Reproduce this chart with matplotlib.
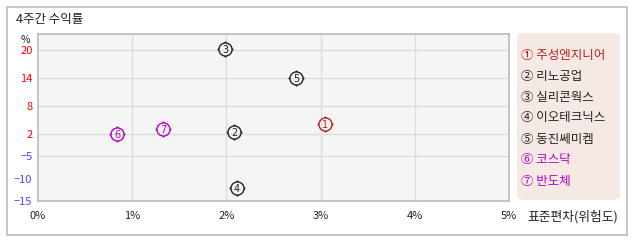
import numpy as np
import matplotlib
matplotlib.use("Agg")
import matplotlib.pyplot as plt
from matplotlib.path import Path
from matplotlib.patches import FancyBboxPatch, Rectangle

plt.rcParams['font.family'] = ['Noto Sans CJK KR', 'DejaVu Sans']

# 데이터
names = ['주성엔지니어', '리노공업', '실리콘웍스', '이오테크닉스', '동진쎄미켐', '코스닥', '반도체']
circled = ['①', '②', '③', '④', '⑤', '⑥', '⑦']
risk = [3.05, 2.08, 1.99, 2.11, 2.74, 0.84, 1.33]      # 표준편차 (%)
ret = [4.1, 2.5, 20.3, -12.2, 14.1, 2.1, 3.0]         # 4주간 수익률 (%)
colors = ['#b22222', '#222222', '#222222', '#222222', '#222222', '#b400c8', '#b400c8']

xticks = [0, 1, 2, 3, 4, 5]
yticks = [20, 14, 8, 2, -5, -10, -15]
ygrid = [20, 14, 8, 2, -5]

# 세로축은 양/음 구간 간격이 다름
sv = [-15, -5, 2, 20, 24]
sp = [0, 45, 67, 151, 169.7]
fwd = lambda v: np.interp(v, sv, sp)
inv = lambda p: np.interp(p, sp, sv)

W, H = 638, 242
fig = plt.figure(figsize=(W / 100, H / 100), dpi=100)
fig.patch.set_facecolor('white')

def fx(px):
    return px / W

def fy(py):
    return 1 - py / H

# 바깥 테두리
fig.patches.append(Rectangle((fx(6.5), fy(235)), fx(620.5), (228) / H, transform=fig.transFigure,
                             fill=False, edgecolor='#bbbbbb', linewidth=1.2))
fig.text(fx(16), fy(20), '4주간 수익률', fontsize=9, va='center', ha='left', color='#222222')

ax = fig.add_axes([fx(38), fy(201), fx(509 - 38), (201 - 34) / H])
ax.set_facecolor('#f5f5f5')
ax.set_yscale('function', functions=(fwd, inv))
ax.set_xlim(0, 5)
ax.set_ylim(-15, 23.5)

for x in xticks[1:-1]:
    ax.axvline(x, color='#dddddd', lw=1, zorder=0)
for y in ygrid:
    ax.axhline(y, color='#dddddd', lw=1, zorder=0)
for s in ax.spines.values():
    s.set_color('#bbbbbb')
    s.set_linewidth(1.2)

ax.set_xticks(xticks)
ax.set_xticklabels([f'{x}%' for x in xticks], fontsize=8, color='#222222')
ax.set_yticks(yticks)
ax.set_yticklabels([str(y).replace('-', '−') for y in yticks], fontsize=8)
for lab, y in zip(ax.get_yticklabels(), yticks):
    lab.set_color('#ff0000' if y > 0 else '#4444ff')
ax.tick_params(length=0, pad=4)
ax.tick_params(axis='x', pad=7)
ax.minorticks_off()

fig.text(fx(25), fy(40), '%', fontsize=7.5, ha='center', va='center', color='#222222')
fig.text(fx(527), fy(217), '표준편차(위험도)', fontsize=9.2, ha='left', va='center', color='#222222')

# 동그라미 + 눈금 표시 마커
circ = Path.unit_circle()
segs = []
for dx, dy in [(0, 1), (0, -1), (1, 0), (-1, 0)]:
    segs.append(Path([(dx * 1.0, dy * 1.0), (dx * 1.22, dy * 1.22)], [Path.MOVETO, Path.LINETO]))
marker = Path.make_compound_path(circ, *segs)

for i in range(len(names)):
    ax.plot(risk[i], ret[i], marker=marker, markersize=11.5, markerfacecolor='none',
            markeredgecolor=colors[i], markeredgewidth=1.0, linestyle='none', zorder=3)
    ax.text(risk[i], ret[i], str(i + 1), fontsize=7, color=colors[i], ha='center',
            va='center_baseline', family='DejaVu Sans', zorder=4)

# 범례
lb = FancyBboxPatch((fx(517), fy(200)), fx(620 - 517), (200 - 33) / H,
                    boxstyle='round,pad=0,rounding_size=0.015', transform=fig.transFigure,
                    facecolor='#f5e9e3', edgecolor='none')
fig.patches.append(lb)
for i in range(len(names)):
    fig.text(fx(521), fy(55 + i * 21), circled[i] + ' ' + names[i], fontsize=9,
             color=colors[i], ha='left', va='center')

fig.savefig('out.png', dpi=100)
